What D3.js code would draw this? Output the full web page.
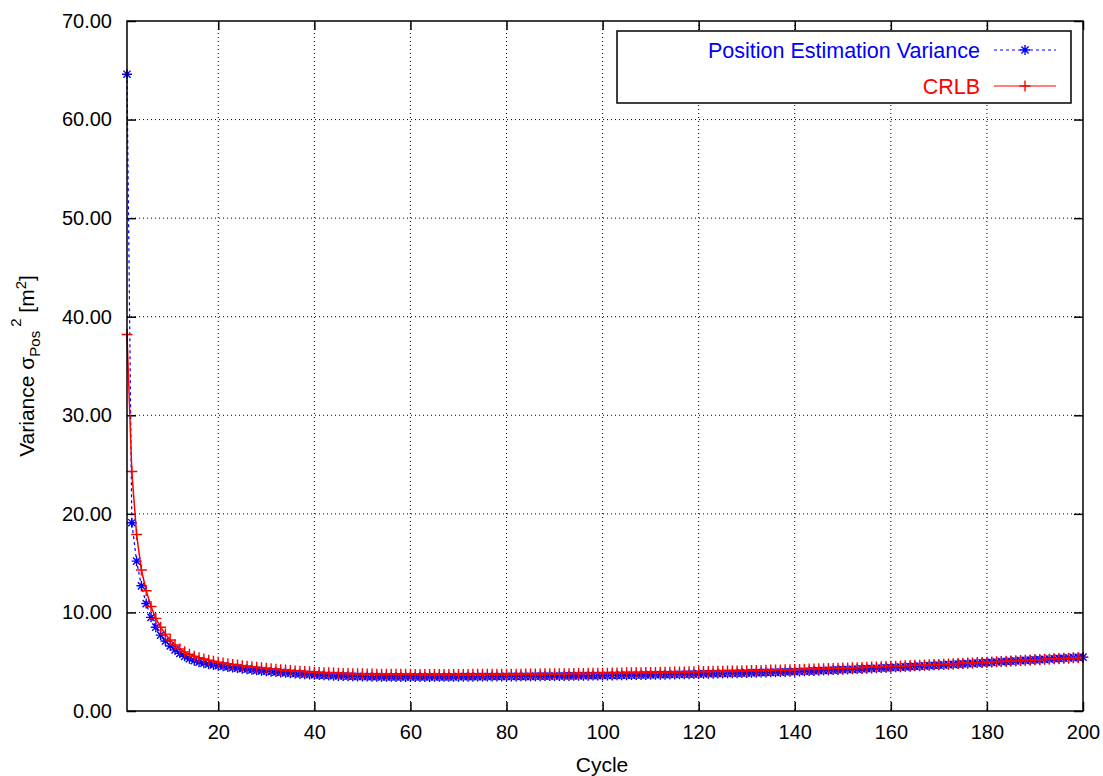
<!DOCTYPE html>
<html lang="en">
<head>
    <meta charset="UTF-8">
    <title>Position Estimation Variance vs CRLB</title>
    <style>
        body { margin: 0; background: #fff; }
        text { font-family: "Liberation Sans", Arial, sans-serif; font-size: 20px; fill: #000; }
        .grid line { stroke: #000; stroke-width: 1; stroke-dasharray: 1,3; }
    </style>
</head>
<body>

<svg width="1103" height="776"></svg>

<script src="https://cdn.jsdelivr.net/npm/d3@7"></script>

<script>
    // values, cycle 1..200
    var varianceVals = [
        64.6, 19.1, 15.2, 12.7, 10.9, 9.5, 8.5, 7.7, 7.1, 6.6,
        6.2, 5.85, 5.55, 5.3, 5.1, 4.95, 4.85, 4.75, 4.67, 4.6,
        4.53, 4.47, 4.41, 4.35, 4.29, 4.24, 4.18, 4.13, 4.08, 4.03,
        3.99, 3.95, 3.91, 3.87, 3.83, 3.80, 3.76, 3.73, 3.70, 3.67,
        3.64, 3.62, 3.60, 3.58, 3.56, 3.55, 3.53, 3.52, 3.51, 3.50,
        3.49, 3.48, 3.48, 3.47, 3.47, 3.47, 3.46, 3.46, 3.46, 3.46,
        3.46, 3.46, 3.46, 3.46, 3.47, 3.47, 3.47, 3.47, 3.47, 3.48,
        3.48, 3.48, 3.48, 3.49, 3.49, 3.49, 3.50, 3.50, 3.50, 3.51,
        3.51, 3.51, 3.52, 3.52, 3.52, 3.53, 3.53, 3.54, 3.54, 3.55,
        3.55, 3.56, 3.56, 3.57, 3.57, 3.58, 3.58, 3.59, 3.59, 3.60,
        3.61, 3.61, 3.62, 3.63, 3.63, 3.64, 3.65, 3.65, 3.66, 3.67,
        3.68, 3.69, 3.69, 3.70, 3.71, 3.72, 3.73, 3.74, 3.75, 3.76,
        3.77, 3.78, 3.79, 3.80, 3.81, 3.82, 3.83, 3.84, 3.85, 3.86,
        3.87, 3.89, 3.90, 3.91, 3.92, 3.94, 3.95, 3.96, 3.98, 3.99,
        4.01, 4.03, 4.05, 4.07, 4.09, 4.11, 4.13, 4.15, 4.17, 4.19,
        4.21, 4.23, 4.25, 4.27, 4.29, 4.31, 4.34, 4.36, 4.38, 4.40,
        4.43, 4.45, 4.48, 4.50, 4.53, 4.55, 4.58, 4.60, 4.63, 4.65,
        4.68, 4.70, 4.73, 4.76, 4.78, 4.81, 4.84, 4.86, 4.89, 4.91,
        4.94, 4.97, 5.00, 5.02, 5.05, 5.08, 5.11, 5.13, 5.16, 5.19,
        5.22, 5.24, 5.27, 5.30, 5.33, 5.35, 5.38, 5.41, 5.44, 5.47
    ];

    var crlbVals = [
        38.2, 24.3, 17.9, 14.3, 12.2, 10.6, 9.4, 8.5, 7.8, 7.2,
        6.7, 6.3, 6.0, 5.75, 5.55, 5.4, 5.27, 5.15, 5.05, 4.95,
        4.87, 4.80, 4.73, 4.66, 4.60, 4.54, 4.48, 4.43, 4.38, 4.33,
        4.28, 4.24, 4.19, 4.15, 4.11, 4.07, 4.04, 4.00, 3.97, 3.94,
        3.91, 3.89, 3.87, 3.85, 3.83, 3.81, 3.80, 3.79, 3.78, 3.77,
        3.76, 3.75, 3.74, 3.74, 3.73, 3.73, 3.72, 3.72, 3.72, 3.72,
        3.71, 3.71, 3.71, 3.71, 3.71, 3.71, 3.71, 3.71, 3.71, 3.71,
        3.71, 3.71, 3.72, 3.72, 3.72, 3.72, 3.72, 3.73, 3.73, 3.73,
        3.74, 3.74, 3.74, 3.75, 3.75, 3.76, 3.76, 3.77, 3.77, 3.78,
        3.78, 3.79, 3.79, 3.80, 3.80, 3.81, 3.82, 3.82, 3.83, 3.84,
        3.84, 3.85, 3.86, 3.86, 3.87, 3.88, 3.88, 3.89, 3.90, 3.91,
        3.91, 3.92, 3.93, 3.94, 3.95, 3.96, 3.96, 3.97, 3.98, 3.99,
        4.00, 4.01, 4.02, 4.03, 4.04, 4.05, 4.06, 4.07, 4.08, 4.09,
        4.10, 4.11, 4.12, 4.13, 4.15, 4.16, 4.17, 4.18, 4.19, 4.21,
        4.22, 4.23, 4.25, 4.26, 4.28, 4.29, 4.31, 4.32, 4.34, 4.35,
        4.37, 4.39, 4.40, 4.42, 4.44, 4.46, 4.47, 4.49, 4.51, 4.53,
        4.55, 4.57, 4.59, 4.61, 4.63, 4.65, 4.67, 4.69, 4.71, 4.73,
        4.75, 4.77, 4.80, 4.82, 4.84, 4.86, 4.88, 4.91, 4.93, 4.95,
        4.98, 5.00, 5.02, 5.05, 5.07, 5.09, 5.12, 5.14, 5.17, 5.19,
        5.21, 5.24, 5.26, 5.29, 5.31, 5.34, 5.36, 5.39, 5.41, 5.44
    ];

    var xTicks = [20, 40, 60, 80, 100, 120, 140, 160, 180, 200];
    var yTicks = [0, 10, 20, 30, 40, 50, 60, 70];
    var seriesNames = ["Position Estimation Variance", "CRLB"];

    var svg = d3.select("svg")
    var margin = {top: 21, right: 20, bottom: 65, left: 127}
    var width = +svg.attr("width") - margin.left - margin.right
    var height = +svg.attr("height") - margin.top - margin.bottom
    var plotgroup = svg.append("g").attr("transform", `translate(${margin.left}, ${margin.top})`);

    var x = d3.scaleLinear().domain([1, 200]).range([0, width]);
    var y = d3.scaleLinear().domain([0, 70]).range([height, 0]);

    var blueData = varianceVals.map((v, i) => ({c: i + 1, v: v}));
    var redData = crlbVals.map((v, i) => ({c: i + 1, v: v}));

    // grid
    var grid = plotgroup.append("g").attr("class", "grid");
    grid.selectAll(".gx").data(xTicks.filter(t => t < 200)).enter().append("line")
        .attr("x1", d => x(d)).attr("x2", d => x(d)).attr("y1", 0).attr("y2", height);
    grid.selectAll(".gy").data(yTicks.filter(t => t > 0 && t < 70)).enter().append("line")
        .attr("x1", 0).attr("x2", width).attr("y1", d => y(d)).attr("y2", d => y(d));

    // axes, ticks pointing inward, mirrored on the other sides
    var fmt = d3.format(".2f");
    var axB = plotgroup.append("g").attr("transform", `translate(0, ${height})`)
        .call(d3.axisBottom(x).tickValues(xTicks).tickSizeInner(-9).tickSizeOuter(0).tickPadding(14));
    var axT = plotgroup.append("g")
        .call(d3.axisTop(x).tickValues(xTicks).tickSizeInner(-9).tickSizeOuter(0).tickFormat(""));
    var axL = plotgroup.append("g")
        .call(d3.axisLeft(y).tickValues(yTicks).tickSizeInner(-9).tickSizeOuter(0).tickPadding(15).tickFormat(fmt));
    var axR = plotgroup.append("g").attr("transform", `translate(${width}, 0)`)
        .call(d3.axisRight(y).tickValues(yTicks).tickSizeInner(-9).tickSizeOuter(0).tickFormat(""));
    [axB, axT, axL, axR].forEach(function (a) {
        a.select(".domain").remove();
        a.selectAll(".tick line").attr("stroke", "#000").attr("stroke-width", 1.5);
        a.selectAll("text").attr("font-family", null).attr("font-size", null);
    });

    // series lines
    var line = d3.line().x(d => x(d.c)).y(d => y(d.v));
    plotgroup.append("clipPath").attr("id", "clip")
        .append("rect").attr("x", -6).attr("y", -2).attr("width", width + 12).attr("height", height + 4);
    var plots = plotgroup.append("g").attr("clip-path", "url(#clip)");

    function star(g, color) {
        g.append("path").attr("d", "M-5,0H5M0,-5V5M-3.6,-3.6L3.6,3.6M-3.6,3.6L3.6,-3.6")
            .attr("stroke", color).attr("stroke-width", 1.4).attr("fill", "none");
    }
    function plus(g, color) {
        g.append("path").attr("d", "M-5.5,0H5.5M0,-5.5V5.5")
            .attr("stroke", color).attr("stroke-width", 1.4).attr("fill", "none");
    }

    plots.append("path").datum(blueData)
        .attr("fill", "none").attr("stroke", "#0000ff").attr("stroke-width", 1.2)
        .attr("stroke-dasharray", "3,3").attr("d", line);
    plots.selectAll(".bpt").data(blueData).enter().append("g")
        .attr("transform", d => `translate(${x(d.c)}, ${y(d.v)})`)
        .each(function () { star(d3.select(this), "#0000ff"); });

    plots.append("path").datum(redData)
        .attr("fill", "none").attr("stroke", "#ff0000").attr("stroke-width", 1.5)
        .attr("d", line);
    plots.selectAll(".rpt").data(redData).enter().append("g")
        .attr("transform", d => `translate(${x(d.c)}, ${y(d.v)})`)
        .each(function () { plus(d3.select(this), "#ff0000"); });

    // border
    plotgroup.append("rect").attr("width", width).attr("height", height)
        .attr("fill", "none").attr("stroke", "#000").attr("stroke-width", 1.5);

    // legend
    var lg = svg.append("g");
    lg.append("rect").attr("x", 617).attr("y", 31).attr("width", 454).attr("height", 72)
        .attr("fill", "#fff").attr("stroke", "#000").attr("stroke-width", 1.5);
    var legendColors = ["#0000ff", "#ff0000"];
    seriesNames.forEach(function (name, i) {
        var ly = 50 + i * 36;
        lg.append("text").attr("x", 980).attr("y", ly).attr("dy", "0.35em")
            .attr("text-anchor", "end").style("fill", legendColors[i]).style("font-size", "21.5px").text(name);
        var ln = lg.append("line").attr("x1", 994).attr("x2", 1056).attr("y1", ly).attr("y2", ly)
            .attr("stroke", legendColors[i]).attr("stroke-width", 1.2);
        var mk = lg.append("g").attr("transform", `translate(1025, ${ly})`);
        if (i === 0) { ln.attr("stroke-dasharray", "3,3"); star(mk, legendColors[i]); }
        else { plus(mk, legendColors[i]); }
    });

    // axis titles
    svg.append("text").attr("x", margin.left + width / 2 - 3).attr("y", 772)
        .attr("text-anchor", "middle").style("font-size", "21px").text("Cycle");
    var yl = svg.append("text").attr("transform", `translate(34, ${margin.top + height / 2}) rotate(-90)`)
        .attr("text-anchor", "middle").style("font-size", "21px");
    yl.append("tspan").text("Variance \u03c3");
    yl.append("tspan").attr("dy", 6).style("font-size", "15px").text("Pos");
    yl.append("tspan").attr("dx", 4).attr("dy", -19).style("font-size", "15px").text("2");
    yl.append("tspan").attr("dy", 13).text(" [m");
    yl.append("tspan").attr("dy", -8).style("font-size", "15px").text("2");
    yl.append("tspan").attr("dy", 8).text("]");
</script>
</body>
</html>
